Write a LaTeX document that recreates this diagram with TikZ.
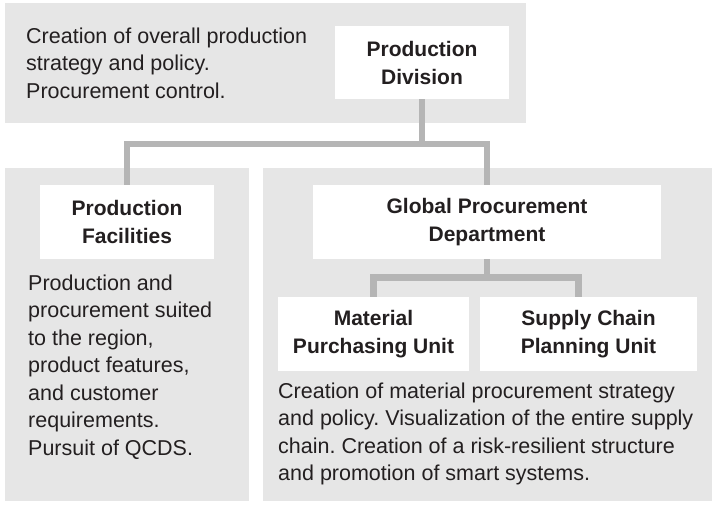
\documentclass[tikz,border=0pt]{standalone}
\usepackage{fontspec}
\setmainfont{Liberation Sans}
\frenchspacing
\definecolor{panelgray}{HTML}{E6E6E6}
\definecolor{linegray}{HTML}{B5B5B5}
\definecolor{ink}{HTML}{231F20}
\begin{document}
\begin{tikzpicture}[x=1pt, y=-1pt,
        panel/.style={rectangle, fill=panelgray, inner sep=0pt},
        unit/.style={rectangle, fill=white, inner sep=0pt, align=center, text=ink,
            font=\bfseries\fontsize{21}{28}\selectfont},
        note/.style={anchor=north west, inner sep=0pt, align=left, text=ink,
            font=\fontsize{21.5}{27.5}\selectfont},
        link/.style={draw=linegray, line width=6.5pt}]
        \useasboundingbox (0,0) rectangle (717,506);

        % Panels
        \node (ptop) [panel, minimum width=521pt, minimum height=119.5pt] at (265.5,62.75) {};
        \node (pleft) [panel, minimum width=244pt, minimum height=333pt] at (127,334.5) {};
        \node (pright) [panel, minimum width=449pt, minimum height=333pt] at (487.5,334.5) {};

        % Nodes
        \node (pd) [unit, minimum width=174pt, minimum height=73pt] at (422,62.5) {Production\\Division};
        \node (pf) [unit, minimum width=174pt, minimum height=74pt] at (127,222) {Production\\Facilities};
        \node (gp) [unit, minimum width=348pt, minimum height=74pt] at (487,222) {Global Procurement\\Department};
        \node (mpu) [unit, minimum width=191pt, minimum height=74pt] at (373.5,334) {Material\\Purchasing Unit};
        \node (scpu) [unit, minimum width=217pt, minimum height=74pt] at (588.5,334) {Supply Chain\\Planning Unit};

        % Notes
        \node (ntop) [note] at (26,27.5) {Creation of overall production\\strategy and policy.\\Procurement control.};
        \node (nleft) [note] at (28,274.5) {Production and\\procurement suited\\to the region,\\product features,\\and customer\\requirements.\\Pursuit of QCDS.};
        \node (nright) [note] at (278,382.5) {Creation of material procurement strategy\\and policy. Visualization of the entire supply\\chain. Creation of a risk-resilient structure\\and promotion of smart systems.};

        % Edges
        \draw[link] (pd.south) -- ++(0,45) coordinate (pdj);
        \draw[link] (pf.north) |- (pdj) -| (gp.north);
        \draw[link] (gp.south) -- ++(0,18.5) coordinate (gpj);
        \draw[link] (mpu.north) |- (gpj) -| ([xshift=-10pt]scpu.north);
\end{tikzpicture}
\end{document}
